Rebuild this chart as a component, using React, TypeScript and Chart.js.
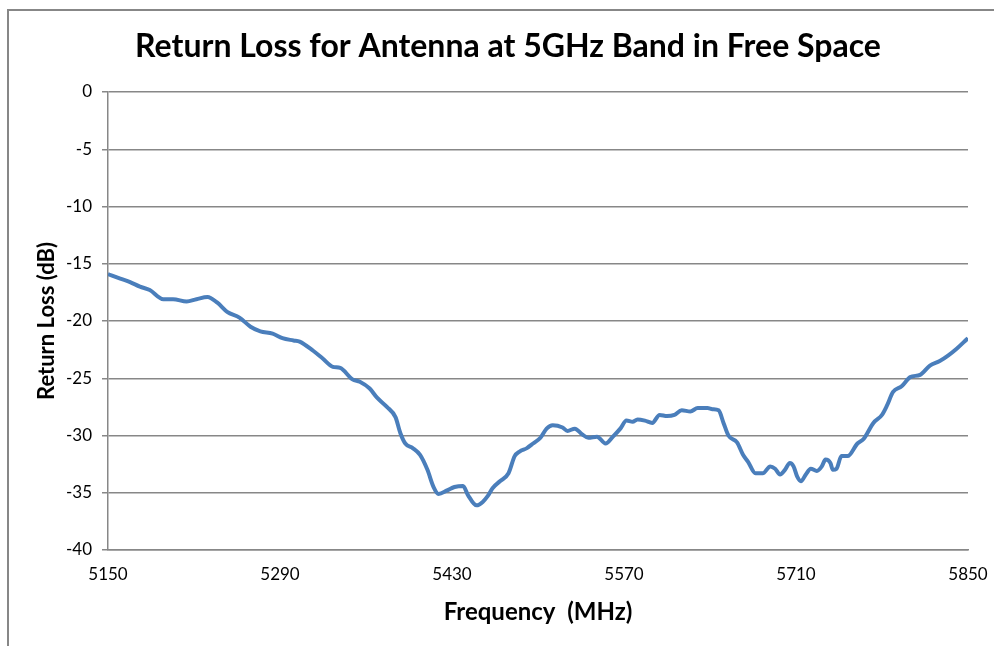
import { useEffect, useRef } from "react";
import { Chart, registerables } from "chart.js";

Chart.register(...registerables);

const chartTitle = "Return Loss for Antenna at 5GHz Band in Free Space";
const xAxisTitle = "Frequency  (MHz)";
const yAxisTitle = "Return Loss (dB)";

const frequencies = [
  5150, 5160, 5168, 5176, 5184, 5195, 5203, 5214, 5222, 5231, 5239, 5247, 5257, 5266, 5274, 5284,
  5292, 5301, 5306, 5317, 5325, 5333, 5339, 5349, 5355, 5363, 5369, 5377, 5384, 5388, 5392, 5398,
  5404, 5410, 5415, 5419, 5426, 5432, 5439, 5443, 5450, 5455, 5459, 5463, 5469, 5476, 5481, 5485,
  5491, 5496, 5502, 5507, 5512, 5520, 5524, 5530, 5536, 5541, 5548, 5555, 5561, 5567, 5572, 5577,
  5581, 5587, 5593, 5599, 5605, 5611, 5617, 5624, 5630, 5638, 5642, 5647, 5651, 5655, 5662, 5667,
  5671, 5677, 5683, 5689, 5693, 5697, 5701, 5705, 5708, 5711, 5714, 5718, 5722, 5727, 5731, 5734,
  5738, 5740, 5743, 5747, 5752, 5760, 5765, 5773, 5780, 5784, 5789, 5796, 5803, 5811, 5819, 5827,
  5834, 5841, 5849, 5850,
];

const returnLoss = [
  -15.9, -16.3, -16.6, -17.0, -17.3, -18.1, -18.1, -18.3, -18.1, -17.9, -18.4, -19.2, -19.7, -20.5, -20.9, -21.1,
  -21.5, -21.7, -21.8, -22.6, -23.3, -24.0, -24.1, -25.1, -25.3, -25.9, -26.7, -27.5, -28.4, -29.8, -30.7, -31.1,
  -31.7, -33.0, -34.5, -35.1, -34.8, -34.5, -34.4, -35.2, -36.1, -35.8, -35.3, -34.6, -34.0, -33.3, -31.8, -31.4,
  -31.1, -30.7, -30.2, -29.4, -29.1, -29.3, -29.6, -29.4, -29.9, -30.2, -30.1, -30.7, -30.1, -29.4, -28.7, -28.8,
  -28.6, -28.7, -28.9, -28.2, -28.3, -28.2, -27.8, -27.9, -27.6, -27.6, -27.7, -27.8, -28.9, -30.0, -30.6, -31.7,
  -32.3, -33.3, -33.3, -32.7, -32.9, -33.4, -33.0, -32.4, -32.7, -33.6, -34.0, -33.4, -32.9, -33.1, -32.7, -32.1,
  -32.4, -33.0, -32.9, -31.8, -31.8, -30.7, -30.3, -28.9, -28.2, -27.4, -26.2, -25.7, -24.9, -24.7, -23.9, -23.5,
  -23.0, -22.4, -21.6, -21.5,
];

const xMin = 5150;
const xMax = 5850;
const xStep = 140;
const yMin = -40;
const yMax = 0;
const yStep = 5;

const FONT = "Lato, 'Open Sans', sans-serif";
const GRID = "#878787";

const frame = {
  id: "frameAndTitle",
  beforeDraw(chart: any) {
    const ctx = chart.ctx;
    ctx.save();
    ctx.fillStyle = "#ffffff";
    ctx.fillRect(0, 0, chart.width, chart.height);
    ctx.strokeStyle = "#878787";
    ctx.lineWidth = 2;
    ctx.beginPath();
    ctx.moveTo(8, chart.height);
    ctx.lineTo(8, 10);
    ctx.lineTo(chart.width, 10);
    ctx.stroke();
    ctx.restore();
  },
  afterDraw(chart: any) {
    const ctx = chart.ctx;
    ctx.save();
    ctx.fillStyle = "#000000";
    ctx.font = `bold 32px ${FONT}`;
    ctx.textAlign = "center";
    ctx.textBaseline = "middle";
    ctx.fillText(chartTitle, 508, 47);
    ctx.restore();
  },
};

export default function App() {
  const ref = useRef<HTMLCanvasElement | null>(null);

  useEffect(() => {
    if (!ref.current) return;
    const points = frequencies.map((f, i) => ({ x: f, y: returnLoss[i] }));
    const chart = new Chart(ref.current, {
      type: "line",
      data: {
        datasets: [
          {
            label: "Return Loss",
            data: points,
            borderColor: "#4a7ebb",
            borderWidth: 4,
            pointRadius: 0,
            fill: false,
            cubicInterpolationMode: "monotone",
          },
        ],
      },
      options: {
        responsive: false,
        animation: false,
        layout: { padding: { top: 92, right: 26, bottom: 0, left: 0 } },
        plugins: {
          legend: { display: false },
          tooltip: { enabled: false },
          title: { display: false },
        },
        scales: {
          x: {
            type: "linear",
            min: xMin,
            max: xMax,
            afterFit(scale: any) {
              scale.height = 96;
              scale.paddingLeft = 0;
              scale.paddingRight = 0;
            },
            ticks: {
              stepSize: xStep,
              autoSkip: false,
              maxRotation: 0,
              padding: 14,
              color: "#000",
              font: { family: FONT, size: 17 },
              callback: (v: any) => String(v),
            },
            grid: { display: false, drawTicks: false },
            border: { display: true, color: GRID, width: 1.5 },
            title: {
              display: true,
              text: xAxisTitle,
              color: "#000",
              font: { family: FONT, size: 24, weight: "bold" },
              padding: { top: 0, bottom: 19 },
            },
          },
          y: {
            min: yMin,
            max: yMax,
            afterFit(scale: any) {
              scale.width = 108;
              scale.paddingTop = 0;
              scale.paddingBottom = 0;
            },
            ticks: {
              stepSize: yStep,
              padding: 10,
              color: "#000",
              font: { family: FONT, size: 17 },
              callback: (v: any) => String(v),
            },
            grid: { color: GRID, lineWidth: 1.5, drawTicks: true, tickLength: 6, tickColor: GRID },
            border: { display: true, color: GRID, width: 1.5 },
            title: {
              display: true,
              text: yAxisTitle,
              color: "#000",
              font: { family: FONT, size: 22, weight: "bold" },
              padding: { top: 34, bottom: 0 },
            },
          },
        },
      },
      plugins: [frame],
    });
    return () => chart.destroy();
  }, []);

  return (
    <div style={{ position: "fixed", left: 0, top: 0, width: 994, height: 646, background: "#fff" }}>
      <canvas ref={ref} width={994} height={646} style={{ display: "block" }} />
    </div>
  );
}
